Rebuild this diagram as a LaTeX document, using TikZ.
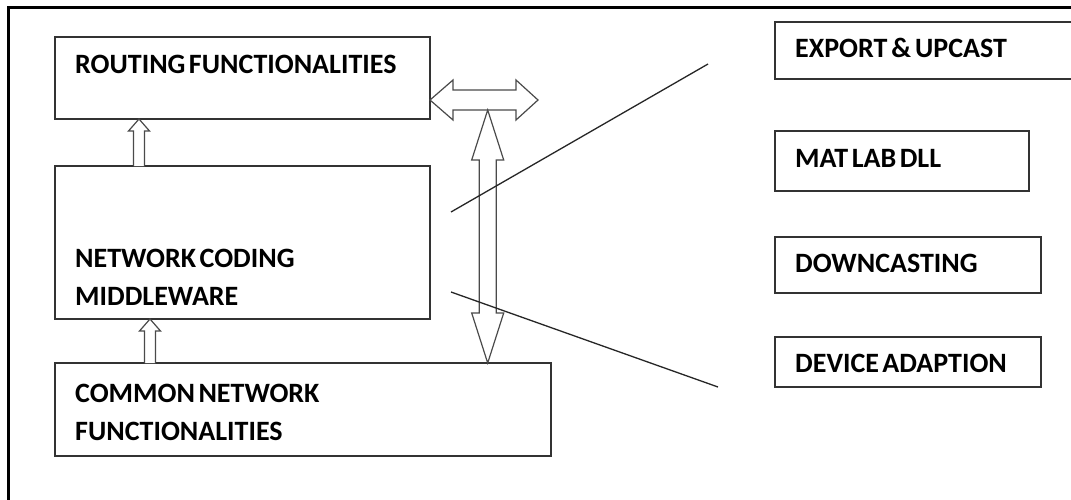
\documentclass[tikz,border=0pt]{standalone}
\usepackage{fontspec}
\setmainfont[WordSpace=0.55]{Carlito}
\usetikzlibrary{calc}
\definecolor{boxline}{HTML}{333333}
\definecolor{arrline}{HTML}{4A4A4A}
\tikzset{
  box/.style={draw=boxline, line width=1.5pt, rectangle, inner sep=0pt, outer sep=0pt, anchor=north west, fill=white},
  lbl/.style={anchor=base west, inner sep=0pt, font=\fontsize{28}{34}\selectfont\bfseries},
  blk/.style={draw=arrline, line width=1.2pt, fill=white, line join=miter},
  thin/.style={draw=black!85, line width=1.3pt},
  frame/.style={draw=black, line width=2.6pt}
}
\begin{document}
\begin{tikzpicture}[x=1pt, y=-1pt]
\clip (0,0) rectangle (1071,499);
\fill[white] (0,0) rectangle (1071,499);
% outer frame
\draw[frame] (8.5,510) -- (8.5,7.5) -- (1080,7.5);
% left boxes
\node[box, minimum width=375pt, minimum height=82pt] (routing) at (55,37) {};
\node[box, minimum width=375pt, minimum height=153pt] (ncm) at (55,166) {};
\node[box, minimum width=496pt, minimum height=93pt] (common) at (55,363) {};
% right boxes
\node[box, minimum width=320pt, minimum height=57pt] (export) at (775,22) {};
\node[box, minimum width=254pt, minimum height=60pt] (matlab) at (775,131) {};
\node[box, minimum width=266pt, minimum height=56pt] (downc) at (775,237) {};
\node[box, minimum width=266pt, minimum height=50pt] (device) at (775,337) {};
% labels
\node[lbl] (routingT) at (75,73) {ROUTING FUNCTIONALITIES};
\node[lbl] (ncmT1) at (75,267) {NETWORK CODING};
\node[lbl] (ncmT2) at (75,305) {MIDDLEWARE};
\node[lbl] (commonT1) at (75,402) {COMMON NETWORK};
\node[lbl] (commonT2) at (75,440) {FUNCTIONALITIES};
\node[lbl] (exportT) at (795,57) {EXPORT\hspace{4pt}\&\hspace{4pt}UPCAST};
\node[lbl] (matlabT) at (795,167) {MAT LAB DLL};
\node[lbl] (downcT) at (795,272) {DOWNCASTING};
\node[lbl] (deviceT) at (795,372) {DEVICE ADAPTION};
% block arrow: middleware -> routing
\draw[blk] (133.5,166) -- (133.5,131) -- (128.5,131) -- (139,119) -- (149.5,131) -- (144.5,131) -- (144.5,166);
% block arrow: common -> middleware
\draw[blk] (144.5,363) -- (144.5,331) -- (139.5,331) -- (150,319) -- (160.5,331) -- (155.5,331) -- (155.5,363);
% horizontal double block arrow
\draw[blk] (430,100) -- (453,80) -- (453,90) -- (516,90) -- (516,80) -- (538,100) -- (516,120) -- (516,110) -- (453,110) -- (453,120) -- cycle;
% vertical double block arrow
\draw[blk] (487.7,110) -- (503.7,160) -- (496.2,160) -- (496.2,313) -- (503.7,313) -- (487.7,363) -- (471.7,313) -- (479.2,313) -- (479.2,160) -- (471.7,160) -- cycle;
% diagonal lines
\coordinate (l1a) at (451,212);
\coordinate (l1b) at (708,64);
\coordinate (l2a) at (451,292);
\coordinate (l2b) at (718,387);
\draw[thin] (l1a) -- (l1b);
\draw[thin] (l2a) -- (l2b);
\end{tikzpicture}
\end{document}
